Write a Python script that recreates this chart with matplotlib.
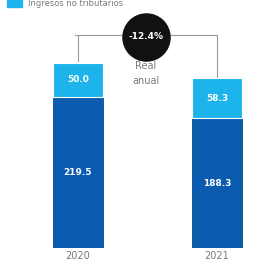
import matplotlib
matplotlib.use("Agg")
import matplotlib.pyplot as plt
from matplotlib.patches import Rectangle

years = ["2020", "2021"]
base_values = [219.5, 188.3]
top_values = [50.0, 58.3]
change_label = "-12.4%"
change_note = ["Real", "anual"]
legend_label = "Ingresos no tributarios"

dark = "#0b5cb0"
light = "#1cb4ea"
gray = "#7a7a7a"

fig = plt.figure(figsize=(2.77, 2.64), dpi=100)
ax = fig.add_axes([0, 16 / 264, 1, 248 / 264])
ax.set_xlim(-0.561, 1.432)
ax.set_ylim(0, 360.5)
ax.axis("off")

x = list(range(len(years)))
w = 0.36
ax.bar(x, base_values, width=w, color=dark, edgecolor="#0a4a8c", linewidth=0.6)
ax.bar(x, top_values, bottom=base_values, width=w, color=light, edgecolor="white", linewidth=0.8)

for i in x:
    ax.text(i, base_values[i] / 2, f"{base_values[i]:.1f}", color="white", fontsize=6.5,
            fontweight="bold", ha="center", va="center")
    ax.text(i, base_values[i] + top_values[i] / 2, f"{top_values[i]:.1f}", color="white",
            fontsize=6.5, fontweight="bold", ha="center", va="center")
    ax.text(i, -4, years[i], color=gray, fontsize=7, ha="center", va="top", clip_on=False)

# bracket
yl = 310
tops = [b + t for b, t in zip(base_values, top_values)]
ax.plot([-0.02, 1.0], [yl, yl], color="#9a9a9a", lw=0.8)
for i in x:
    ax.plot([i, i], [yl, tops[i] + 2], color="#9a9a9a", lw=0.8)
ax.scatter([0.49], [yl - 3], s=1150, color="#111111", zorder=5)
ax.text(0.49, yl - 3, change_label, color="white", fontsize=6.5, fontweight="bold",
        ha="center", va="center", zorder=6)
ax.text(0.49, 264, change_note[0], color=gray, fontsize=7, ha="center", va="center")
ax.text(0.49, 243, change_note[1], color=gray, fontsize=7, ha="center", va="center")

# legend at top
fig.patches.append(Rectangle((7 / 277, 257 / 264), 15 / 277, 7 / 264,
                             transform=fig.transFigure, color=light))
fig.text(28 / 277, 260 / 264, legend_label, color=gray, fontsize=6, va="center", ha="left")

fig.savefig("out.png", dpi=100)
